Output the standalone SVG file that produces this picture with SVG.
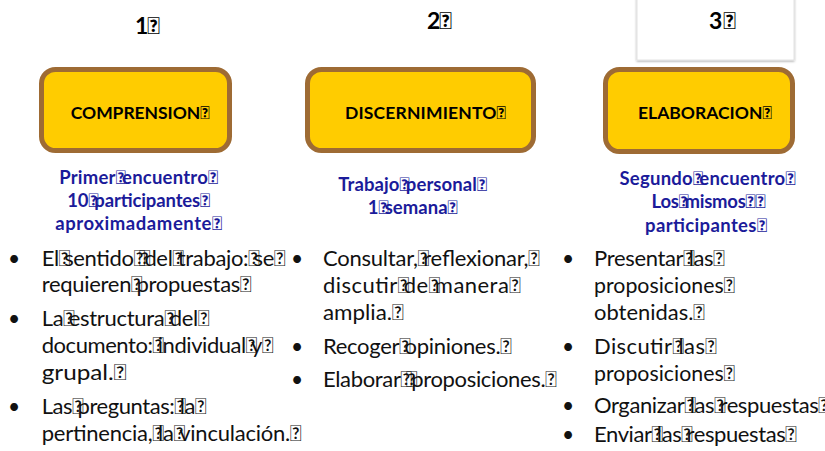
<svg xmlns="http://www.w3.org/2000/svg" width="825" height="451" viewBox="0 0 825 451">
<defs>
<style>
.hd{font-family:Lato,"Liberation Sans",sans-serif;font-weight:bold;font-size:23px;fill:#000;text-anchor:middle}
.box{fill:#FFCC00;stroke:#9E6B34;stroke-width:5}
.lbl{font-family:Lato,"Liberation Sans",sans-serif;font-weight:bold;font-size:17.5px;fill:#000;text-anchor:middle}
.sub{font-family:Lato,"Liberation Sans",sans-serif;font-weight:bold;font-size:18.5px;fill:#1B1B9A;text-anchor:middle}
.txt{font-family:Lato,"Liberation Sans",sans-serif;font-size:22px;fill:#111}
.bul{font-family:Lato,"Liberation Sans",sans-serif;font-size:21px;fill:#111;text-anchor:middle}
.t{letter-spacing:-6px}
.s{letter-spacing:-4px}
</style>
<filter id="sh" x="-10%" y="-10%" width="120%" height="130%">
<feDropShadow dx="0" dy="1" stdDeviation="1.2" flood-color="#000" flood-opacity="0.35"/>
</filter>
</defs>
<rect width="825" height="451" fill="#fff"/>
<g id="connectors"/>
<g id="node-1">
<text class="hd" x="147.5" y="33.5" textLength="25">1&#xF020;</text>
<rect class="box" x="41.5" y="69.5" width="188" height="81" rx="14"/>
<text class="lbl" x="140.3" y="119" textLength="139">COMPRENSION&#xF020;</text>
<text class="sub" x="138.7" y="184" textLength="159">Primer<tspan class="s">&#xF020;</tspan>encuentro&#xF020;</text>
<text class="sub" x="138.7" y="207" textLength="143">10<tspan class="s">&#xF020;</tspan>participantes&#xF020;</text>
<text class="sub" x="138.7" y="230" textLength="167">aproximadamente&#xF020;</text>
<text class="bul" x="14" y="265.5">•</text>
<text class="bul" x="14" y="326">•</text>
<text class="bul" x="14" y="413.5">•</text>
<text class="txt" x="41.7" y="265.5" textLength="244">El<tspan class="t">&#xF020;</tspan>sentido<tspan class="t">&#xF020;&#xF020;</tspan>del<tspan class="t">&#xF020;</tspan>trabajo:<tspan class="t">&#xF020;</tspan>se&#xF020;</text>
<text class="txt" x="41.7" y="292" textLength="210">requieren<tspan class="t">&#xF020;</tspan>propuestas&#xF020;</text>
<text class="txt" x="41.7" y="326" textLength="168">La<tspan class="t">&#xF020;</tspan>estructura<tspan class="t">&#xF020;</tspan>del&#xF020;</text>
<text class="txt" x="41.7" y="353" textLength="232">documento:<tspan class="t">&#xF020;</tspan>individual<tspan class="t">&#xF020;</tspan>y&#xF020;</text>
<text class="txt" x="41.7" y="380" textLength="85" lengthAdjust="spacingAndGlyphs">grupal.&#xF020;</text>
<text class="txt" x="41.7" y="413.5" textLength="165">Las<tspan class="t">&#xF020;</tspan>preguntas:<tspan class="t">&#xF020;</tspan>la&#xF020;</text>
<text class="txt" x="41.7" y="440.5" textLength="260">pertinencia,<tspan class="t">&#xF020;</tspan>la<tspan class="t">&#xF020;</tspan>vinculación.&#xF020;</text>
</g>
<g id="node-2">
<text class="hd" x="439.5" y="28.5" textLength="25">2&#xF020;</text>
<rect class="box" x="307.5" y="69.5" width="226" height="81" rx="14"/>
<text class="lbl" x="425.5" y="119" textLength="161">DISCERNIMIENTO&#xF020;</text>
<text class="sub" x="412.7" y="191" textLength="149">Trabajo<tspan class="s">&#xF020;</tspan>personal&#xF020;</text>
<text class="sub" x="412.7" y="213.5" textLength="90">1<tspan class="s">&#xF020;</tspan>semana&#xF020;</text>
<text class="bul" x="297" y="265.5">•</text>
<text class="bul" x="297" y="354">•</text>
<text class="bul" x="297" y="386.5">•</text>
<text class="txt" x="323" y="265.5" textLength="217">Consultar,<tspan class="t">&#xF020;</tspan>reflexionar,&#xF020;</text>
<text class="txt" x="323" y="292.5" textLength="198">discutir<tspan class="t">&#xF020;</tspan>de<tspan class="t">&#xF020;</tspan>manera&#xF020;</text>
<text class="txt" x="323" y="319.5" textLength="81" lengthAdjust="spacingAndGlyphs">amplia.&#xF020;</text>
<text class="txt" x="323" y="354" textLength="189">Recoger<tspan class="t">&#xF020;</tspan>opiniones.&#xF020;</text>
<text class="txt" x="323" y="386.5" textLength="234">Elaborar<tspan class="t">&#xF020;&#xF020;</tspan>proposiciones.&#xF020;</text>
</g>
<g id="node-3">
<rect x="637" y="-10" width="157" height="70" fill="#fff" stroke="#e2e2e2" stroke-width="1" filter="url(#sh)"/>
<text class="hd" x="722.5" y="29.3" textLength="27">3&#xF020;</text>
<rect class="box" x="605.5" y="69.5" width="187" height="82" rx="14"/>
<text class="lbl" x="705" y="119" textLength="134">ELABORACION&#xF020;</text>
<text class="sub" x="707.5" y="185" textLength="176">Segundo<tspan class="s">&#xF020;</tspan>encuentro&#xF020;</text>
<text class="sub" x="708.5" y="208" textLength="114">Los<tspan class="s">&#xF020;</tspan>mismos&#xF020;&#xF020;</text>
<text class="sub" x="706" y="231.5" textLength="122">participantes&#xF020;</text>
<text class="bul" x="568" y="265.5">•</text>
<text class="bul" x="568" y="354">•</text>
<text class="bul" x="568" y="413">•</text>
<text class="bul" x="568" y="441.5">•</text>
<text class="txt" x="594" y="265.5" textLength="131">Presentar<tspan class="t">&#xF020;</tspan>las&#xF020;</text>
<text class="txt" x="594" y="292.5" textLength="141" lengthAdjust="spacingAndGlyphs">proposiciones&#xF020;</text>
<text class="txt" x="594" y="319.5" textLength="111" lengthAdjust="spacingAndGlyphs">obtenidas.&#xF020;</text>
<text class="txt" x="594" y="354" textLength="123">Discutir<tspan class="t">&#xF020;</tspan>las&#xF020;</text>
<text class="txt" x="594" y="381" textLength="141" lengthAdjust="spacingAndGlyphs">proposiciones&#xF020;</text>
<text class="txt" x="594" y="413" textLength="236">Organizar<tspan class="t">&#xF020;</tspan>las<tspan class="t">&#xF020;</tspan>respuestas&#xF020;</text>
<text class="txt" x="594" y="441.5" textLength="203">Enviar<tspan class="t">&#xF020;</tspan>las<tspan class="t">&#xF020;</tspan>respuestas&#xF020;</text>
</g>
</svg>
